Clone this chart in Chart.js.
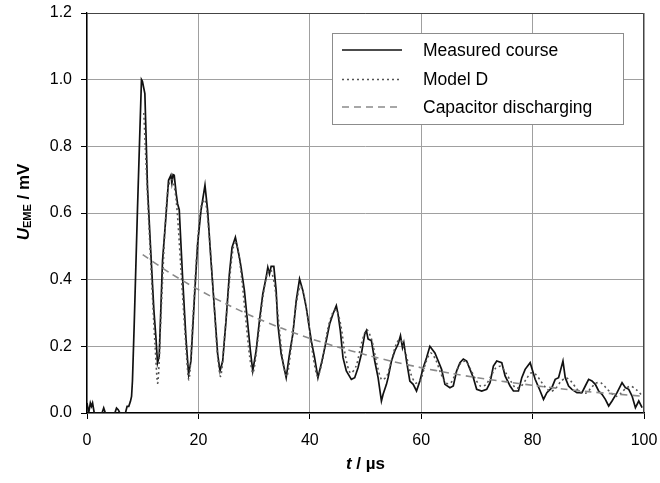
<!DOCTYPE html>
<html>
<head>
<meta charset="utf-8">
<script src="https://cdn.jsdelivr.net/npm/chart.js@4.4.1/dist/chart.umd.min.js"></script>
<style>
html, body { margin: 0; padding: 0; background: #fff; }
#wrap { width: 660px; height: 483px; }
</style>
</head>
<body>
<div id="wrap"><canvas id="chart" width="660" height="483"></canvas></div>
<script>
// Measured course, time in µs / voltage in mV
const measuredTime = [
    0.0, 0.3, 0.6, 0.8, 1.0, 1.3, 2.7, 3.0, 3.3, 5.0,
    5.3, 5.6, 5.9, 6.9, 7.2, 7.5, 7.8, 8.0, 8.16, 8.46,
    9.06, 9.5, 9.78, 9.95, 10.39, 10.86, 11.4, 12.0, 12.4, 12.66,
    12.96, 13.56, 14.16, 14.64, 15.06, 15.24, 15.45, 15.66, 16.0, 16.26,
    16.56, 17.16, 17.76, 18.24, 18.66, 19.26, 19.86, 20.46, 21.18, 21.66,
    22.26, 22.86, 23.46, 23.88, 24.36, 24.96, 25.56, 26.04, 26.64, 27.24,
    27.36, 27.66, 28.26, 28.86, 29.34, 29.76, 30.36, 30.96, 31.56, 32.16,
    32.46, 32.76, 33.06, 33.54, 33.96, 34.26, 34.86, 35.76, 36.36, 36.96,
    37.56, 38.16, 38.76, 39.36, 40.26, 40.86, 41.46, 42.18, 42.96, 43.56,
    44.16, 44.76, 45.06, 45.48, 45.96, 46.56, 47.46, 48.06, 48.66, 49.26,
    49.86, 50.16, 50.46, 51.06, 51.66, 52.26, 52.86, 53.16, 53.76, 54.06,
    54.66, 55.26, 55.86, 56.28, 56.64, 56.88, 57.36, 57.96, 58.56, 59.16,
    59.76, 60.36, 60.96, 61.56, 62.46, 63.06, 63.66, 64.26, 65.16, 65.76,
    66.36, 66.96, 67.56, 68.16, 68.76, 69.36, 69.96, 70.86, 71.76, 72.36,
    72.96, 73.56, 74.46, 75.06, 75.96, 76.56, 77.46, 78.06, 78.66, 79.56,
    80.46, 81.36, 81.96, 82.56, 83.46, 84.06, 84.66, 85.45, 85.86, 86.46,
    87.06, 87.96, 88.86, 89.46, 90.06, 90.66, 91.26, 91.86, 92.46, 93.06,
    93.66, 94.26, 95.16, 96.06, 96.66, 97.26, 97.86, 98.46, 99.06, 99.66
];
const measuredValues = [
    0.03, 0.0, 0.03, 0.02, 0.03, 0.0, 0.0, 0.015, 0.0, 0.0,
    0.015, 0.01, 0.0, 0.0, 0.02, 0.02, 0.035, 0.05, 0.096, 0.257,
    0.61, 0.85, 1.0, 0.995, 0.958, 0.678, 0.5, 0.31, 0.22, 0.15,
    0.17, 0.457, 0.587, 0.698, 0.713, 0.69, 0.715, 0.713, 0.66, 0.628,
    0.61, 0.407, 0.226, 0.116, 0.156, 0.337, 0.507, 0.607, 0.683, 0.607,
    0.457, 0.317, 0.177, 0.126, 0.156, 0.277, 0.417, 0.497, 0.527, 0.477,
    0.467, 0.437, 0.367, 0.267, 0.186, 0.126, 0.186, 0.277, 0.357, 0.407,
    0.437, 0.417, 0.44, 0.44, 0.367, 0.267, 0.177, 0.106, 0.177, 0.237,
    0.337, 0.402, 0.367, 0.317, 0.217, 0.166, 0.106, 0.156, 0.217, 0.267,
    0.297, 0.322, 0.297, 0.247, 0.166, 0.126, 0.101, 0.106, 0.136, 0.177,
    0.237, 0.247, 0.222, 0.217, 0.156, 0.106, 0.036, 0.056, 0.086, 0.106,
    0.156, 0.186, 0.207, 0.232, 0.196, 0.211, 0.156, 0.096, 0.086, 0.066,
    0.096, 0.136, 0.166, 0.2, 0.18, 0.156, 0.131, 0.086, 0.076, 0.081,
    0.126, 0.151, 0.162, 0.156, 0.131, 0.106, 0.071, 0.066, 0.071, 0.091,
    0.141, 0.156, 0.151, 0.111, 0.081, 0.066, 0.066, 0.106, 0.131, 0.151,
    0.101, 0.066, 0.041, 0.061, 0.076, 0.101, 0.106, 0.156, 0.106, 0.081,
    0.071, 0.061, 0.061, 0.081, 0.101, 0.096, 0.086, 0.066, 0.056, 0.041,
    0.021, 0.036, 0.061, 0.091, 0.076, 0.071, 0.051, 0.016, 0.036, 0.016
];

// Model D
const modelTime = [
    10.2, 10.9, 11.6, 12.2, 12.7, 13.3, 14.0, 14.6, 15.3, 16.0,
    16.8, 17.6, 18.3, 19.0, 19.8, 20.5, 21.2, 22.0, 22.8, 23.4,
    24.0, 24.8, 25.6, 26.3, 26.8, 27.6, 28.4, 29.2, 29.8, 30.6,
    31.6, 32.4, 33.0, 33.8, 34.6, 35.3, 35.9, 36.8, 37.6, 38.3,
    39.0, 39.8, 40.6, 41.4, 42.3, 43.2, 44.1, 44.8, 45.6, 46.4,
    47.3, 48.3, 49.3, 50.2, 51.1, 52.0, 52.9, 53.8, 54.7, 55.6,
    56.3, 57.2, 58.1, 59.0, 59.9, 60.8, 61.7, 62.6, 63.5, 64.4,
    65.3, 66.2, 67.1, 68.0, 68.9, 69.8, 70.7, 71.6, 72.5, 73.4,
    74.3, 75.2, 76.1, 77.0, 77.9, 78.8, 79.7, 80.6, 81.5, 82.4,
    83.3, 84.2, 85.1, 86.0, 86.9, 87.8, 88.7, 89.6, 90.5, 91.4,
    92.3, 93.2, 94.1, 95.0, 95.9, 96.8, 97.7, 98.6, 99.5
];
const modelValues = [
    0.90, 0.64, 0.40, 0.21, 0.09, 0.30, 0.55, 0.68, 0.70, 0.64,
    0.45, 0.24, 0.10, 0.28, 0.50, 0.62, 0.64, 0.52, 0.33, 0.18,
    0.11, 0.25, 0.40, 0.50, 0.51, 0.43, 0.30, 0.17, 0.12, 0.21,
    0.35, 0.42, 0.43, 0.37, 0.24, 0.14, 0.11, 0.22, 0.33, 0.38,
    0.35, 0.27, 0.17, 0.11, 0.16, 0.25, 0.30, 0.31, 0.26, 0.17,
    0.12, 0.14, 0.21, 0.25, 0.22, 0.15, 0.10, 0.11, 0.16, 0.21,
    0.22, 0.18, 0.12, 0.09, 0.10, 0.15, 0.18, 0.16, 0.12, 0.09,
    0.09, 0.12, 0.15, 0.155, 0.13, 0.10, 0.08, 0.085, 0.11, 0.135,
    0.14, 0.12, 0.095, 0.075, 0.08, 0.10, 0.12, 0.115, 0.095, 0.075,
    0.065, 0.075, 0.095, 0.105, 0.095, 0.075, 0.06, 0.06, 0.075, 0.09,
    0.09, 0.075, 0.06, 0.05, 0.06, 0.075, 0.08, 0.07, 0.055
];

// Capacitor discharging
const capTime = [10, 15, 20, 25, 30, 35, 40, 45, 50, 55, 60, 65, 70, 75, 80, 85, 90, 95, 100];
const capValues = [
    0.475, 0.419, 0.370, 0.327, 0.288, 0.254, 0.224, 0.198, 0.175, 0.154,
    0.136, 0.120, 0.106, 0.094, 0.083, 0.073, 0.064, 0.057, 0.050
];

const seriesLabels = ["Measured course", "Model D", "Capacitor discharging"];
const xTicks = [0, 20, 40, 60, 80, 100];
const yTicks = [0, 0.2, 0.4, 0.6, 0.8, 1.0, 1.2];

const fontFamily = "'Liberation Sans', Arial, sans-serif";

function toPoints(xs, ys) {
    return xs.map((x, i) => ({ x: x, y: ys[i] }));
}

// ======================================
// Axis titles, frame and legend box
// ======================================

const decorPlugin = {
    id: "decor",
    afterDatasetsDraw(chart) {
        const ctx = chart.ctx;
        const a = chart.chartArea;
        ctx.save();
        ctx.strokeStyle = "#444";
        ctx.lineWidth = 1;
        ctx.beginPath();
        ctx.moveTo(a.left, a.top + 0.5);
        ctx.lineTo(a.right - 0.5, a.top + 0.5);
        ctx.lineTo(a.right - 0.5, a.bottom);
        ctx.stroke();
        ctx.restore();
    },
    afterDraw(chart) {
        const ctx = chart.ctx;
        const a = chart.chartArea;
        ctx.save();
        ctx.fillStyle = "#000";
        ctx.textBaseline = "middle";

        // y title: U_EME / mV
        const parts = [
            { t: "U", f: "italic bold 17px " + fontFamily, dy: 0 },
            { t: "EME", f: "bold 11px " + fontFamily, dy: 4 },
            { t: " / mV", f: "bold 17px " + fontFamily, dy: 0 }
        ];
        let total = 0;
        parts.forEach(p => { ctx.font = p.f; p.w = ctx.measureText(p.t).width; total += p.w; });
        ctx.translate(24, 202);
        ctx.rotate(-Math.PI / 2);
        let px = -total / 2;
        ctx.textAlign = "left";
        parts.forEach(p => { ctx.font = p.f; ctx.fillText(p.t, px, p.dy); px += p.w; });
        ctx.setTransform(1, 0, 0, 1, 0, 0);

        // x title: t / µs
        const xparts = [
            { t: "t", f: "italic bold 17px " + fontFamily },
            { t: " / ", f: "bold 17px " + fontFamily },
            { t: "\u00b5s", f: "bold 17px " + fontFamily }
        ];
        total = 0;
        xparts.forEach(p => { ctx.font = p.f; p.w = ctx.measureText(p.t).width; total += p.w; });
        px = (a.left + a.right) / 2 - total / 2;
        xparts.forEach(p => { ctx.font = p.f; ctx.fillText(p.t, px, 464); px += p.w; });

        // legend
        const box = { x: 332.5, y: 33.5, w: 291, h: 91 };
        ctx.fillStyle = "#fff";
        ctx.fillRect(box.x, box.y, box.w, box.h);
        ctx.strokeStyle = "#8c8c8c";
        ctx.lineWidth = 1;
        ctx.strokeRect(box.x, box.y, box.w, box.h);
        const rows = [50, 79.5, 107];
        chart.data.datasets.forEach((ds, i) => {
            ctx.strokeStyle = ds.borderColor;
            ctx.lineWidth = ds.borderWidth;
            ctx.setLineDash(ds.borderDash || []);
            ctx.beginPath();
            ctx.moveTo(342, rows[i]);
            ctx.lineTo(402, rows[i]);
            ctx.stroke();
            ctx.setLineDash([]);
            ctx.fillStyle = "#000";
            ctx.font = "17.5px " + fontFamily;
            ctx.fillText(ds.label, 423, rows[i] + 1);
        });
        ctx.restore();
    }
};

new Chart(document.getElementById("chart"), {
    type: "line",
    data: {
        datasets: [
            {
                label: seriesLabels[0],
                data: toPoints(measuredTime, measuredValues),
                borderColor: "#111",
                borderWidth: 1.7,
                pointRadius: 0,
                tension: 0,
                order: 3
            },
            {
                label: seriesLabels[1],
                data: toPoints(modelTime, modelValues),
                borderColor: "#555",
                borderWidth: 1.6,
                borderDash: [2, 3],
                pointRadius: 0,
                tension: 0.3,
                order: 2
            },
            {
                label: seriesLabels[2],
                data: toPoints(capTime, capValues),
                borderColor: "#8a8a8a",
                borderWidth: 1.6,
                borderDash: [7, 5],
                pointRadius: 0,
                tension: 0.3,
                order: 1
            }
        ]
    },
    options: {
        responsive: false,
        animation: false,
        devicePixelRatio: 1,
        layout: { padding: { left: 0, right: 16, top: 13, bottom: 0 } },
        plugins: {
            legend: { display: false },
            tooltip: { enabled: false }
        },
        scales: {
            x: {
                type: "linear",
                min: 0,
                max: 100,
                afterBuildTicks: scale => { scale.ticks = xTicks.map(v => ({ value: v })); },
                afterFit: scale => {
                    scale.height = 70;
                    scale.paddingLeft = 0;
                    scale.paddingRight = 0;
                },
                ticks: {
                    color: "#000",
                    padding: 12,
                    font: { family: fontFamily, size: 16 },
                    callback: v => String(v)
                },
                grid: { color: "#a0a0a0", tickColor: "#000", tickLength: 6, lineWidth: 1 },
                border: { color: "#000", width: 1.3 }
            },
            y: {
                min: 0,
                max: 1.2,
                afterBuildTicks: scale => { scale.ticks = yTicks.map(v => ({ value: v })); },
                afterFit: scale => {
                    scale.width = 87;
                    scale.paddingTop = 0;
                    scale.paddingBottom = 0;
                },
                ticks: {
                    color: "#000",
                    padding: 9,
                    font: { family: fontFamily, size: 16 },
                    callback: v => Number(v).toFixed(1)
                },
                grid: { color: "#a0a0a0", tickColor: "#000", tickLength: 6, lineWidth: 1 },
                border: { color: "#000", width: 1.3 }
            }
        }
    },
    plugins: [decorPlugin]
});
</script>
</body>
</html>
